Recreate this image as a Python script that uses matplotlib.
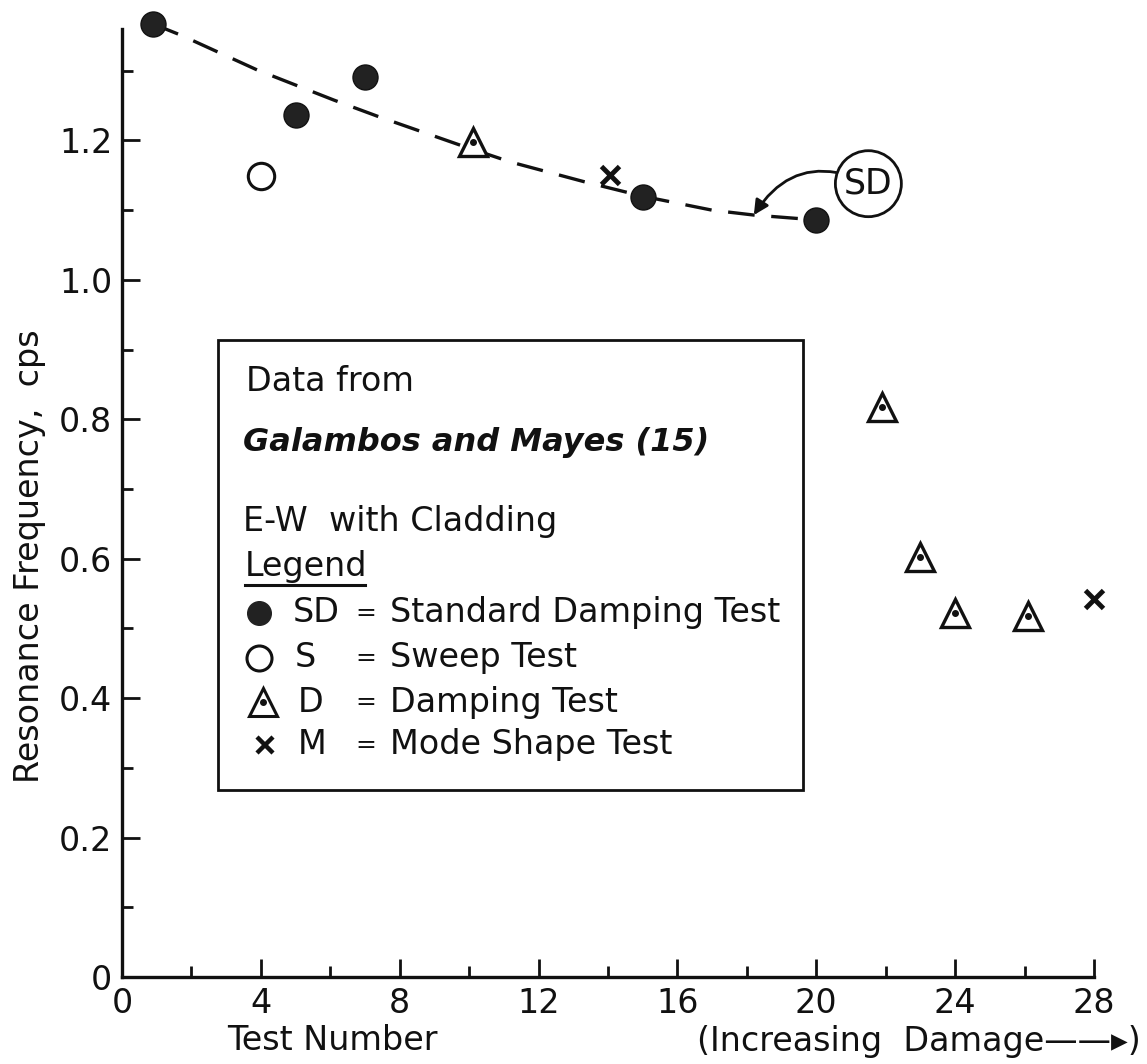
import numpy as np
import matplotlib.pyplot as plt
from matplotlib.patches import Rectangle

# data
sd_x = [0.9, 5.0, 7.0, 15.0, 20.0]
sd_y = [1.367, 1.237, 1.291, 1.119, 1.086]
s_x = [4.0]
s_y = [1.149]
d_x = [10.1, 21.9, 23.0, 24.0, 26.1]
d_y = [1.198, 0.818, 0.603, 0.522, 0.518]
m_x = [14.05, 28.0]
m_y = [1.151, 0.542]
curve_x = [0.9, 1.7, 3.9, 6.1, 7.4, 9.7, 11.2, 13.3, 15.0, 17.0, 18.2, 20.0]
curve_y = [1.367, 1.351, 1.301, 1.258, 1.234, 1.194, 1.169, 1.141, 1.120, 1.100, 1.093, 1.086]

x_ticks = [0, 4, 8, 12, 16, 20, 24, 28]
y_ticks = [0, 0.2, 0.4, 0.6, 0.8, 1.0, 1.2]
y_ticklabels = ['0', '0.2', '0.4', '0.6', '0.8', '1.0', '1.2']

legend_rows = [('SD', 'Standard Damping Test'),
               ('S', 'Sweep Test'),
               ('D', 'Damping Test'),
               ('M', 'Mode Shape Test')]

plt.rcParams['font.family'] = ['DejaVu Sans']
FS = 24
ink = '#111111'

fig = plt.figure(figsize=(11.47, 10.64), dpi=100)
ax = fig.add_axes([0.1064, 0.0818, 0.8474, 0.891])
ax.set_xlim(0, 28)
ax.set_ylim(0, 1.36)
for s in ['top', 'right']:
    ax.spines[s].set_visible(False)
for s in ['left', 'bottom']:
    ax.spines[s].set_linewidth(2.4)
    ax.spines[s].set_color(ink)

ax.set_xticks(x_ticks)
ax.set_xticks(np.arange(2, 28, 4), minor=True)
ax.set_yticks(y_ticks)
ax.set_yticklabels(y_ticklabels)
ax.set_yticks(np.arange(0.1, 1.36, 0.2), minor=True)
ax.tick_params(which='major', direction='in', length=13, width=2, labelsize=FS, pad=7, colors=ink)
ax.tick_params(which='minor', direction='in', length=8, width=2, colors=ink)

# dashed fit through SD points
ax.plot(curve_x, curve_y, color=ink, lw=2.4, dashes=(8, 5), clip_on=False)

ax.plot(sd_x, sd_y, 'o', ms=18, color='#222222', mec=ink, clip_on=False)
ax.plot(s_x, s_y, 'o', ms=19, mfc='white', mec=ink, mew=2.2, clip_on=False)
ax.plot(d_x, d_y, '^', ms=20, mfc='white', mec=ink, mew=2.4, clip_on=False)
ax.plot(d_x, d_y, 'o', ms=4, color=ink, clip_on=False)
ax.plot(m_x, m_y, 'x', ms=13, mec=ink, mew=3.5, clip_on=False)

ax.annotate('SD', xy=(18.2, 1.093), xytext=(21.5, 1.138), fontsize=FS + 1,
            ha='center', va='center', color=ink,
            bbox=dict(boxstyle='circle,pad=0.25', fc='white', ec=ink, lw=2),
            arrowprops=dict(arrowstyle='-|>', connectionstyle='arc3,rad=0.45',
                            color=ink, lw=2, mutation_scale=22, shrinkA=0, shrinkB=0))

# legend box
tr = ax.transAxes
ax.add_patch(Rectangle((0.0988, 0.197), 0.602, 0.475, transform=tr,
                       fill=False, ec=ink, lw=2))
ax.text(0.1276, 0.6276, 'Data from', transform=tr, fontsize=FS, va='center', color=ink)
ax.text(0.1245, 0.5633, 'Galambos and Mayes (15)', transform=tr, fontsize=23,
        fontweight='bold', style='italic', va='center', color=ink)
ax.text(0.1245, 0.480, 'E-W  with Cladding', transform=tr, fontsize=FS, va='center', color=ink)
ax.text(0.1265, 0.4325, 'Legend', transform=tr, fontsize=FS, va='center', color=ink)
ax.plot([0.1265, 0.250], [0.4135, 0.4135], transform=tr, color=ink, lw=2.2)

row_y = [0.384, 0.3365, 0.290, 0.2447]
code_x = [0.176, 0.178, 0.181, 0.181]
ax.plot(0.141, row_y[0], 'o', ms=17, color='#222222', transform=tr)
ax.plot(0.141, row_y[1], 'o', ms=18, mfc='white', mec=ink, mew=2.2, transform=tr)
ax.plot(0.145, row_y[2], '^', ms=20, mfc='white', mec=ink, mew=2.2, transform=tr)
ax.plot(0.145, row_y[2], 'o', ms=4, color=ink, transform=tr)
ax.plot(0.147, row_y[3], 'x', ms=12, mec=ink, mew=3.2, transform=tr)
for (code, name), yy, cx in zip(legend_rows, row_y, code_x):
    ax.text(cx, yy, code, transform=tr, fontsize=FS, va='center', color=ink)
    ax.text(0.251, yy, '=', transform=tr, fontsize=18, ha='center', va='center', color=ink)
    ax.text(0.2757, yy, name, transform=tr, fontsize=FS, va='center', color=ink)

# axis titles
fig.text(30 / 1147, 1 - 556 / 1064, 'Resonance Frequency,  cps', rotation=90, fontsize=FS,
         ha='center', va='center', color=ink)
fig.text(332 / 1147, 1 - 1040 / 1064, 'Test Number', fontsize=FS,
         ha='center', va='center', color=ink)
fig.text(1141 / 1147, 1 - 1041 / 1064, '(Increasing  Damage\u2014\u2014\u25b8)', fontsize=FS,
         ha='right', va='center', color=ink)

fig.savefig('out.png', dpi=100)
